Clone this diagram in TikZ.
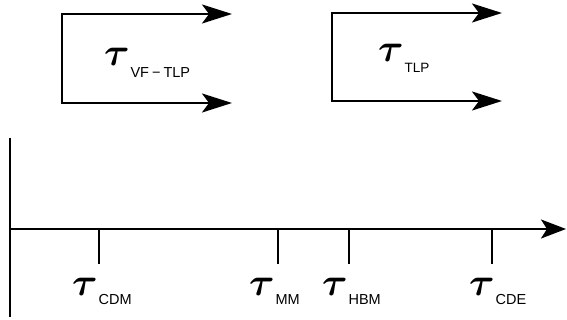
\documentclass[tikz,border=0pt]{standalone}
\usepackage{graphicx}
\usepackage{fontspec}
\setsansfont{Liberation Sans}
\usetikzlibrary{arrows.meta}
\newcommand{\tlab}[3]{\scalebox{3.9}{\boldmath$\tau$}\hspace{1pt}\raisebox{#2}{\fontsize{#3}{#3}\selectfont\sffamily #1}}
\begin{document}
\begin{tikzpicture}[x=1pt,y=-1pt,
  bline/.style={line width=2.2pt},
  aline/.style={line width=2pt},
  bigtip/.style={{Stealth[length=30pt,width=19pt,inset=7pt]}-{Stealth[length=30pt,width=19pt,inset=7pt]}},
  axtip/.style={-{Stealth[length=25pt,width=19pt,inset=6pt]}},
  lab/.style={anchor=base west,inner sep=0pt,outer sep=0pt},
]
\useasboundingbox (0,0) rectangle (567,320);
% left bracket
\coordinate (a1) at (232,14);
\coordinate (b1) at (62,14);
\coordinate (c1) at (62,103);
\coordinate (d1) at (232,103);
\draw[bline,bigtip] (a1) -- (b1) -- (c1) -- (d1);
% right bracket
\coordinate (a2) at (502,13);
\coordinate (b2) at (332,13);
\coordinate (c2) at (332,101);
\coordinate (d2) at (502,101);
\draw[bline,bigtip] (a2) -- (b2) -- (c2) -- (d2);
\node[lab] (l1) at (104,66) {\tlab{VF\hspace{3pt}−\hspace{3pt}TLP}{-12pt}{14.5}};
\node[lab] (l2) at (378,62) {\tlab{TLP}{-11pt}{13.5}};
% axes
\coordinate (v0) at (10,138);
\coordinate (v1) at (10,317);
\coordinate (o) at (10,229);
\coordinate (xe) at (566,229);
\draw[aline] (v0) -- (v1);
\draw[aline,axtip] (o) -- (xe);
% ticks
\foreach \n/\x in {cdm/99,mm/278,hbm/349,cde/492}{
  \coordinate (\n a) at (\x,229);
  \coordinate (\n b) at (\x,264);
  \draw[aline] (\n a) -- (\n b);
}
\node[lab] (cdm) at (72,295) {\tlab{CDM}{-9pt}{14.5}};
\node[lab] (mm) at (249,295) {\tlab{MM}{-9pt}{14.5}};
\node[lab] (hbm) at (322,295) {\tlab{HBM}{-9pt}{14.5}};
\node[lab] (cde) at (469,295) {\tlab{CDE}{-9pt}{14.5}};
\end{tikzpicture}
\end{document}
